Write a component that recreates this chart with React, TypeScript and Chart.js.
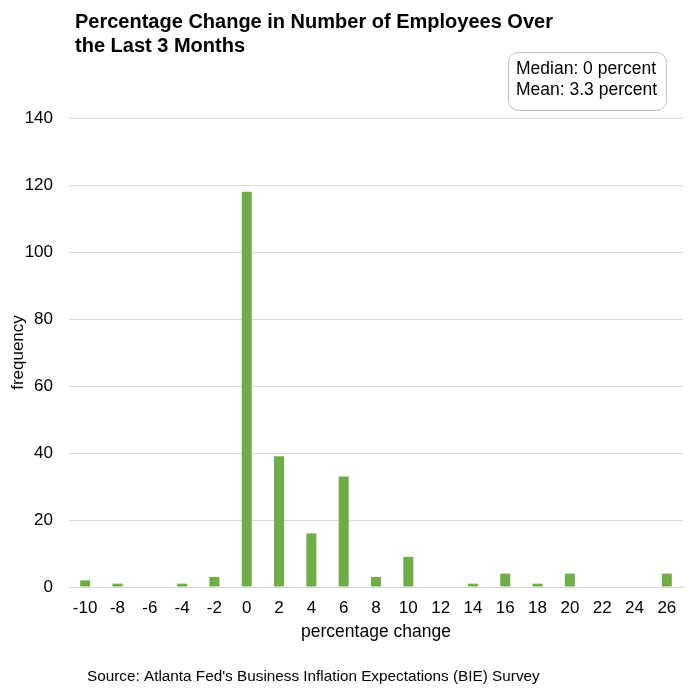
import React, { useEffect, useRef } from "react";
import { Chart, registerables } from "chart.js";

Chart.register(...registerables);

// Histogram of employee headcount change (percent) over the last 3 months
const categories: string[] = [
  "-10", "-8", "-6", "-4", "-2", "0", "2", "4", "6", "8",
  "10", "12", "14", "16", "18", "20", "22", "24", "26",
];
const frequency: number[] = [
  2, 1, 0, 1, 3, 118, 39, 16, 33, 3,
  9, 0, 1, 4, 1, 4, 0, 0, 4,
];
const yTicks: number[] = [0, 20, 40, 60, 80, 100, 120, 140];

const titleLines: string[] = [
  "Percentage Change in Number of Employees Over",
  "the Last 3 Months",
];
const statsLines: string[] = ["Median: 0 percent", "Mean: 3.3 percent"];
const xAxisTitle = "percentage change";
const yAxisTitle = "frequency";
const sourceNote =
  "Source: Atlanta Fed's Business Inflation Expectations (BIE) Survey";

const FONT = "'Liberation Sans', Arial, sans-serif";
const W = 689;
const H = 695;

const decorations = {
  id: "decorations",
  afterDraw(chart: Chart) {
    const ctx = chart.ctx;
    const area = chart.chartArea;
    ctx.save();
    ctx.fillStyle = "#000";
    ctx.textBaseline = "middle";

    // heading
    ctx.textAlign = "left";
    ctx.font = `bold 20px ${FONT}`;
    titleLines.forEach((t, i) => ctx.fillText(t, 75, 22 + i * 24));

    // summary statistics box
    const bx = 508.5, by = 52.5, bw = 158, bh = 58, r = 10;
    ctx.beginPath();
    ctx.moveTo(bx + r, by);
    ctx.arcTo(bx + bw, by, bx + bw, by + bh, r);
    ctx.arcTo(bx + bw, by + bh, bx, by + bh, r);
    ctx.arcTo(bx, by + bh, bx, by, r);
    ctx.arcTo(bx, by, bx + bw, by, r);
    ctx.closePath();
    ctx.fillStyle = "#fff";
    ctx.fill();
    ctx.strokeStyle = "#bfbfbf";
    ctx.lineWidth = 1;
    ctx.stroke();
    ctx.fillStyle = "#000";
    ctx.font = `17.5px ${FONT}`;
    statsLines.forEach((t, i) => ctx.fillText(t, 516, 69 + i * 21));

    // x axis title
    ctx.textAlign = "center";
    ctx.font = `17.5px ${FONT}`;
    ctx.fillText(xAxisTitle, (area.left + area.right) / 2, 632);

    // source note
    ctx.textAlign = "left";
    ctx.font = `15.3px ${FONT}`;
    ctx.fillText(sourceNote, 87, 677);
    ctx.restore();
  },
};

export default function App() {
  const canvasRef = useRef<HTMLCanvasElement | null>(null);

  useEffect(() => {
    if (!canvasRef.current) return;
    const chart = new Chart(canvasRef.current, {
      type: "bar",
      data: {
        labels: categories,
        datasets: [
          {
            data: frequency,
            backgroundColor: "#70ad47",
            barPercentage: 0.31,
            categoryPercentage: 1,
          },
        ],
      },
      options: {
        responsive: false,
        animation: false,
        devicePixelRatio: 1,
        layout: { padding: { top: 118, right: 6, bottom: 0, left: 0 } },
        plugins: {
          legend: { display: false },
          title: { display: false },
          tooltip: { enabled: false },
        },
        scales: {
          x: {
            grid: { display: false, drawTicks: true, tickLength: 8 },
            border: { display: true, color: "#d9d9d9" },
            ticks: {
              color: "#000",
              font: { family: FONT, size: 17 },
              padding: 3,
              maxRotation: 0,
              autoSkip: false,
            },
            afterFit(scale: any) {
              scale.height = 108;
            },
          },
          y: {
            min: 0,
            max: 140,
            afterBuildTicks(scale: any) {
              scale.ticks = yTicks.map((v) => ({ value: v }));
            },
            grid: { color: "#d9d9d9", drawTicks: false },
            border: { display: false },
            ticks: {
              color: "#000",
              font: { family: FONT, size: 17 },
              padding: 16,
            },
            title: {
              display: true,
              text: yAxisTitle,
              color: "#000",
              font: { family: FONT, size: 17 },
              padding: { top: 8, bottom: 4 },
            },
            afterFit(scale: any) {
              scale.width = 69;
            },
          },
        },
      },
      plugins: [decorations],
    });
    return () => chart.destroy();
  }, []);

  return (
    <div style={{ position: "fixed", left: 0, top: 0, width: W, height: H, background: "#fff" }}>
      <canvas ref={canvasRef} width={W} height={H} style={{ width: W, height: H, display: "block" }} />
    </div>
  );
}
